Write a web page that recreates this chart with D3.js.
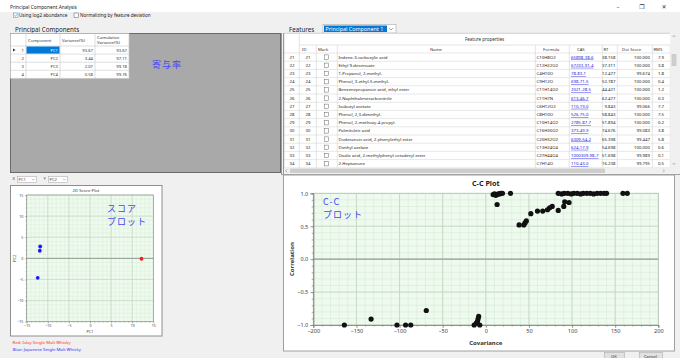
<!DOCTYPE html>
<html>
<head>
<meta charset="utf-8">
<script src="https://cdn.jsdelivr.net/npm/d3@7"></script>
<style>
html, body { margin: 0; padding: 0; background: #f0f0f0; overflow: hidden; }
body { position: relative; width: 680px; height: 358px; }
svg { display: block; font-family: "Noto Sans", "DejaVu Sans", sans-serif; }
.note { position: absolute; font-family: "Noto Sans CJK JP", "Noto Sans", sans-serif; font-size: 9px;
        letter-spacing: 1px; line-height: 13px; color: #4646f0; white-space: nowrap; margin: 0; }
</style>
</head>
<body>
<svg id="app" width="680" height="358"></svg>
<script>
// ---- principal components table ----
const pcNames = ["PC1", "PC2", "PC3", "PC4"];
const pcVariance = [93.67, 3.44, 2.07, 0.58];
const pcCumulative = [93.67, 97.11, 99.18, 99.76];

// ---- feature properties table ----
const featureIds = [21, 22, 23, 24, 25, 26, 27, 28, 29, 30, 31, 32, 33, 34];
const featureNames = [
  "Indene-3-carboxylic acid", "Ethyl 9-decenoate", "1-Propanol, 2-methyl-",
  "Phenol, 3-ethyl-5-methyl-", "Benzenepropanoic acid, ethyl ester",
  "2-Naphthalenecarbonitrile", "Isobutyl acetate", "Phenol, 2,3-dimethyl-",
  "Phenol, 2-methoxy-4-propyl-", "Palmitoleic acid",
  "Dodecanoic acid, 2-phenylethyl ester", "Diethyl azelate",
  "Oxalic acid, 2-methylphenyl octadecyl ester", "2-Heptanone"
];
const featureFormulas = ["C10H8O2", "C12H22O2", "C4H10O", "C9H12O", "C11H14O2", "C11H7N",
  "C6H12O2", "C8H10O", "C10H14O2", "C16H30O2", "C20H32O2", "C13H24O4", "C27H44O4", "C7H14O"];
const featureCas = ["65898-38-6", "67233-91-4", "78-83-1", "698-71-5", "2021-28-5", "613-46-7",
  "110-19-0", "526-75-0", "2785-87-7", "373-49-9", "6309-54-2", "624-17-9", "1000309-98-7", "110-43-0"];
const featureRt = ["38.158", "37.311", "12.477", "52.787", "44.421", "62.477", "9.843",
  "58.843", "51.894", "74.676", "65.398", "54.698", "51.698", "16.238"];
const featureDotScore = ["100.000", "100.000", "99.674", "100.000", "100.000", "100.000", "99.066",
  "100.000", "100.000", "99.083", "99.447", "100.000", "99.989", "99.795"];
const featureRms = ["7.9", "3.8", "1.8", "0.4", "1.2", "0.3", "7.7", "7.5", "0.2", "3.8", "5.8", "0.6", "0.1", "0.5"];

// ---- 2D score plot (PC1 vs PC2) ----
const scorePc1 = [-11.8, -11.9, -12.4, 12.2];
const scorePc2 = [2.8, 1.8, -4.6, -0.1];
const scoreGroup = ["Japanese", "Japanese", "Japanese", "Islay"];
const scoreTicks = [-15, -10, -5, 0, 5, 10, 15];
const legendLines = ["Red: Islay Single Malt Whisky", "Blue: Japanese Single Malt Whisky"];

// ---- C-C plot (covariance vs correlation) ----
const ccCovariance = [
  -164, -133, -103, -93, -87, -69, -13.5, -11, -9.7, -9, -8.3, -7,
  8.5, 10, 11.6, 13, 14.3, 16, 17.4, 19.3, 13.1, 28.6,
  38.6, 44, 45.5, 47, 52.2, 59.9, 66, 71.5, 74, 77, 84, 90.4, 91.5, 96.5,
  84, 88, 91, 95, 99, 102, 106, 110, 113, 117, 121, 125, 129, 133, 137, 140,
  159, 164
];
const ccCorrelation = [
  -1.0, -0.91, -1.0, -1.0, -1.0, -0.78, -1.0, -0.97, -0.95, -0.91, -0.87, -1.0,
  0.98, 0.99, 0.97, 0.98, 0.99, 0.99, 1.0, 1.0, 0.83, 1.0,
  0.52, 0.52, 0.55, 0.58, 0.69, 0.73, 0.73, 0.75, 0.78, 0.80, 0.74, 0.80, 0.87, 0.86,
  1.0, 0.99, 1.0, 1.0, 0.99, 1.0, 1.0, 0.99, 1.0, 1.0, 1.0, 0.99, 1.0, 1.0, 1.0, 1.0,
  1.0, 1.0
];
const ccXTicks = [-200, -150, -100, -50, 0, 50, 100, 150, 200];
const ccYTicks = [-1.0, -0.5, 0.0, 0.5, 1.0];

const svg = d3.select("#app");

// annotation notes laid over the panels (two-line notes keep one block each)
function note(x, y, lines) {
  d3.select("body").append("p").attr("class", "note")
    .style("left", x + "px").style("top", y + "px")
    .html(lines.join("<br>"));
}

// ===== window frame =====
svg.append("rect").attr("width", 680).attr("height", 358).attr("fill", "#f0f0f0");
svg.append("rect").attr("width", 680).attr("height", 12).attr("fill", "#ffffff");
svg.append("text").attr("x", 10).attr("y", 8.5).attr("font-size", 4.8).attr("fill", "#222")
  .text("Principal Component Analysis");
[["\u2013", 618], ["\u2750", 642], ["\u2715", 664]].forEach(([g, x]) => {
  svg.append("text").attr("x", x).attr("y", 9).attr("font-size", 6).attr("fill", "#333")
    .attr("text-anchor", "middle").attr("font-family", "DejaVu Sans").text(g);
});

// option checkboxes
function checkbox(g, x, y, checked) {
  g.append("rect").attr("x", x).attr("y", y).attr("width", 4.5).attr("height", 4.5)
    .attr("fill", "#fff").attr("stroke", checked ? "#3c7fd8" : "#555").attr("stroke-width", 0.5);
  if (checked) {
    g.append("path").attr("d", `M${x + 0.9},${y + 2.3} L${x + 1.9},${y + 3.4} L${x + 3.7},${y + 1.1}`)
      .attr("fill", "none").attr("stroke", "#3c7fd8").attr("stroke-width", 0.6);
  }
}
checkbox(svg, 13.5, 13, true);
svg.append("text").attr("x", 19).attr("y", 16.8).attr("font-size", 4.6).attr("fill", "#222").text("Using log2 abundance");
checkbox(svg, 74, 13, false);
svg.append("text").attr("x", 80).attr("y", 16.8).attr("font-size", 4.6).attr("fill", "#222").text("Normalizing by feature deviation");

// ===== principal components =====
svg.append("text").attr("x", 15).attr("y", 31.5).attr("font-size", 6.2).attr("fill", "#222").text("Principal Components");
svg.append("rect").attr("x", 10.5).attr("y", 33.5).attr("width", 270).attr("height", 139)
  .attr("fill", "#a9a9a9").attr("stroke", "#6a6a6a").attr("stroke-width", 1);

const pcCols = [10.5, 26, 60, 95, 129];
const pcHeadTop = 33.5, pcHeadH = 12.5, pcRowH = 8.1;
const pcT = svg.append("g");
pcT.append("rect").attr("x", pcCols[0]).attr("y", pcHeadTop).attr("width", pcCols[4] - pcCols[0])
  .attr("height", pcHeadH + pcRowH * pcNames.length).attr("fill", "#fff");
pcT.selectAll("line.v").data(pcCols).join("line")
  .attr("x1", d => d).attr("x2", d => d).attr("y1", pcHeadTop)
  .attr("y2", pcHeadTop + pcHeadH + pcRowH * pcNames.length).attr("stroke", "#c8c8c8").attr("stroke-width", 0.6);
pcT.selectAll("line.h").data(d3.range(pcNames.length + 1)).join("line")
  .attr("x1", pcCols[0]).attr("x2", pcCols[4])
  .attr("y1", i => pcHeadTop + pcHeadH + i * pcRowH).attr("y2", i => pcHeadTop + pcHeadH + i * pcRowH)
  .attr("stroke", "#c8c8c8").attr("stroke-width", 0.6);
const hdr = [["Component", pcCols[1] + 2, 41.5], ["Variance(%)", pcCols[2] + 2, 41.5]];
hdr.forEach(([t, x, y]) => pcT.append("text").attr("x", x).attr("y", y).attr("font-size", 4.2).attr("fill", "#333").text(t));
pcT.append("text").attr("x", pcCols[3] + 2).attr("y", 38.5).attr("font-size", 4.2).attr("fill", "#333").text("Cumulative");
pcT.append("text").attr("x", pcCols[3] + 2).attr("y", 43.5).attr("font-size", 4.2).attr("fill", "#333").text("Variance(%)");
pcNames.forEach((name, i) => {
  const y0 = pcHeadTop + pcHeadH + i * pcRowH;
  const yt = y0 + pcRowH / 2 + 1.5;
  if (i === 0) {
    pcT.append("rect").attr("x", pcCols[1] + 0.5).attr("y", y0 + 0.5).attr("width", pcCols[2] - pcCols[1] - 1)
      .attr("height", pcRowH - 1).attr("fill", "#0078d7");
    pcT.append("path").attr("d", `M13,${y0 + 2.6} L15.5,${y0 + 4} L13,${y0 + 5.4} Z`).attr("fill", "#333");
  }
  pcT.append("text").attr("x", 24).attr("y", yt).attr("text-anchor", "end").attr("font-size", 4.2).attr("fill", "#333").text(i + 1);
  pcT.append("text").attr("x", pcCols[2] - 2).attr("y", yt).attr("text-anchor", "end").attr("font-size", 4.2)
    .attr("fill", i === 0 ? "#fff" : "#333").text(name);
  pcT.append("text").attr("x", pcCols[3] - 2).attr("y", yt).attr("text-anchor", "end").attr("font-size", 4.2)
    .attr("fill", "#333").text(pcVariance[i].toFixed(2));
  pcT.append("text").attr("x", pcCols[4] - 2).attr("y", yt).attr("text-anchor", "end").attr("font-size", 4.2)
    .attr("fill", "#333").text(pcCumulative[i].toFixed(2));
});
note(152, 57.5, ["寄与率"]);

// ===== features =====
svg.append("text").attr("x", 289).attr("y", 32).attr("font-size", 6.2).attr("fill", "#222").text("Features");
svg.append("rect").attr("x", 323).attr("y", 24.5).attr("width", 73).attr("height", 8.5)
  .attr("fill", "#fff").attr("stroke", "#9a9a9a").attr("stroke-width", 0.5);
svg.append("rect").attr("x", 324).attr("y", 25.5).attr("width", 63).attr("height", 6.5).attr("fill", "#0078d7");
svg.append("text").attr("x", 325.5).attr("y", 30.8).attr("font-size", 5.4).attr("fill", "#fff").text("Principal Component 1");
svg.append("path").attr("d", "M389,28 L391,30 L393,28").attr("fill", "none").attr("stroke", "#555").attr("stroke-width", 0.5);

const fCols = [284, 299, 316, 337, 535, 569, 602, 617, 652, 670];
const fTop = 33, fBandH = 12, fHeadH = 8, fRowH = 8.2;
const fBody = fTop + fBandH + fHeadH;
const fT = svg.append("g");
svg.append("line").attr("x1", 281.5).attr("x2", 281.5).attr("y1", 33).attr("y2", 175).attr("stroke", "#9a9a9a");
svg.append("line").attr("x1", 283.5).attr("x2", 283.5).attr("y1", 33).attr("y2", 175).attr("stroke", "#9a9a9a");
fT.append("rect").attr("x", 284).attr("y", fTop).attr("width", 394).attr("height", 141).attr("fill", "#fff");
fT.append("line").attr("x1", 284).attr("x2", 670).attr("y1", fTop + 0.3).attr("y2", fTop + 0.3).attr("stroke", "#b0b0b0").attr("stroke-width", 0.6);
fT.append("line").attr("x1", fCols[1]).attr("x2", 670).attr("y1", fTop + fBandH).attr("y2", fTop + fBandH).attr("stroke", "#d0d0d0").attr("stroke-width", 0.6);
fT.append("text").attr("x", (fCols[1] + 670) / 2).attr("y", fTop + 8).attr("text-anchor", "middle")
  .attr("font-size", 4.5).attr("fill", "#333").text("Feature properties");
const nRows = featureIds.length;
fT.selectAll("line.fv").data(fCols).join("line")
  .attr("x1", d => d + 0.3).attr("x2", d => d + 0.3)
  .attr("y1", (d, i) => (i <= 1 ? fTop : fTop + fBandH)).attr("y2", fBody + nRows * fRowH)
  .attr("stroke", "#d0d0d0").attr("stroke-width", 0.6);
fT.selectAll("line.fh").data(d3.range(nRows + 1)).join("line")
  .attr("x1", 284).attr("x2", 670)
  .attr("y1", i => fBody + i * fRowH).attr("y2", i => fBody + i * fRowH)
  .attr("stroke", "#d6d6d6").attr("stroke-width", 0.6);
const headCells = [["ID", 302, "start"], ["Mark", 318, "start"], ["Name", 436, "middle"], ["Formula", 543, "start"],
  ["CAS", 577, "start"], ["RT", 603.5, "start"], ["Dot Score", 622, "start"], ["RMS", 653.5, "start"]];
headCells.forEach(([t, x, a]) => fT.append("text").attr("x", x).attr("y", fTop + fBandH + 5.6)
  .attr("text-anchor", a).attr("font-size", 4.2).attr("fill", "#333").text(t));

featureIds.forEach((id, i) => {
  const y0 = fBody + i * fRowH, yt = y0 + fRowH / 2 + 1.5;
  const row = fT.append("g").attr("font-size", 4.3).attr("fill", "#222");
  row.append("text").attr("x", 292).attr("y", yt).attr("text-anchor", "middle").text(id);
  row.append("text").attr("x", 308).attr("y", yt).attr("text-anchor", "middle").text(id);
  row.append("rect").attr("x", 324.2).attr("y", y0 + 1.9).attr("width", 4.4).attr("height", 4.4)
    .attr("fill", "#fff").attr("stroke", "#555").attr("stroke-width", 0.45);
  row.append("text").attr("x", 338.5).attr("y", yt).text(featureNames[i]);
  row.append("text").attr("x", 536.5).attr("y", yt).text(featureFormulas[i]);
  row.append("text").attr("x", 571).attr("y", yt).attr("fill", "#2020e0")
    .attr("text-decoration", "underline").text(featureCas[i]);
  row.append("text").attr("x", 615.5).attr("y", yt).attr("text-anchor", "end").text(featureRt[i]);
  row.append("text").attr("x", 650).attr("y", yt).attr("text-anchor", "end").text(featureDotScore[i]);
  row.append("text").attr("x", 658).attr("y", yt).text(featureRms[i]);
});
// scrollbars
fT.append("rect").attr("x", 670.3).attr("y", fTop).attr("width", 7.7).attr("height", 135).attr("fill", "#f0f0f0");
fT.append("rect").attr("x", 671.5).attr("y", 54).attr("width", 5).attr("height", 12).attr("fill", "#cdcdcd");
fT.append("path").attr("d", `M672.5,37 L674,35.5 L675.5,37`).attr("fill", "none").attr("stroke", "#777").attr("stroke-width", 0.5);
fT.append("path").attr("d", `M672.5,163 L674,164.5 L675.5,163`).attr("fill", "none").attr("stroke", "#777").attr("stroke-width", 0.5);
fT.append("rect").attr("x", 284).attr("y", 167.8).attr("width", 394).attr("height", 6).attr("fill", "#f0f0f0");
fT.append("rect").attr("x", 290).attr("y", 168.6).attr("width", 315).attr("height", 4.4).attr("fill", "#cdcdcd");
fT.append("path").attr("d", `M287,169.3 L285.6,170.8 L287,172.3`).attr("fill", "none").attr("stroke", "#777").attr("stroke-width", 0.5);
fT.append("path").attr("d", `M663,169.3 L664.4,170.8 L663,172.3`).attr("fill", "none").attr("stroke", "#777").attr("stroke-width", 0.5);
svg.append("line").attr("x1", 281).attr("x2", 680).attr("y1", 174.5).attr("y2", 174.5).attr("stroke", "#a0a0a0");

// ===== score plot selectors =====
function combo(x, label, value) {
  svg.append("text").attr("x", x).attr("y", 180.3).attr("font-size", 4.2).attr("fill", "#444").text(label);
  svg.append("rect").attr("x", x + 5).attr("y", 176.5).attr("width", 19).attr("height", 6)
    .attr("fill", "#fff").attr("stroke", "#a0a0a0").attr("stroke-width", 0.5);
  svg.append("text").attr("x", x + 6).attr("y", 180.8).attr("font-size", 4).attr("fill", "#333").text(value);
  svg.append("path").attr("d", `M${x + 19.5},178.8 L${x + 20.8},180.1 L${x + 22.1},178.8`)
    .attr("fill", "none").attr("stroke", "#666").attr("stroke-width", 0.45);
}
combo(12.5, "X", "PC1");
combo(43.5, "Y", "PC2");

// ===== 2D score plot =====
svg.append("rect").attr("x", 10.5).attr("y", 185.5).attr("width", 151.5).attr("height", 150.5)
  .attr("fill", "#fff").attr("stroke", "#8e8e8e").attr("stroke-width", 1);
svg.append("text").attr("x", 86).attr("y", 191.8).attr("text-anchor", "middle").attr("font-size", 4.3)
  .attr("fill", "#333").text("2D Score Plot");
const sx = d3.scaleLinear().domain([-15, 15]).range([26.7, 153.3]);
const sy = d3.scaleLinear().domain([-15, 15]).range([321.7, 195]);
const sp = svg.append("g");
sp.append("rect").attr("x", sx(-15)).attr("y", sy(15)).attr("width", sx(15) - sx(-15)).attr("height", sy(-15) - sy(15))
  .attr("fill", "#eefaee");
const sMinor = d3.range(-15, 15.01, 1);
sp.selectAll("line.mx").data(sMinor).join("line").attr("x1", d => sx(d)).attr("x2", d => sx(d))
  .attr("y1", sy(15)).attr("y2", sy(-15)).attr("stroke", "#d6ead6").attr("stroke-width", 0.4);
sp.selectAll("line.my").data(sMinor).join("line").attr("y1", d => sy(d)).attr("y2", d => sy(d))
  .attr("x1", sx(-15)).attr("x2", sx(15)).attr("stroke", "#d6ead6").attr("stroke-width", 0.4);
sp.selectAll("line.Mx").data(scoreTicks).join("line").attr("x1", d => sx(d)).attr("x2", d => sx(d))
  .attr("y1", sy(15)).attr("y2", sy(-15)).attr("stroke", "#bfd2bf").attr("stroke-width", 0.6);
sp.selectAll("line.My").data(scoreTicks).join("line").attr("y1", d => sy(d)).attr("y2", d => sy(d))
  .attr("x1", sx(-15)).attr("x2", sx(15)).attr("stroke", "#bfd2bf").attr("stroke-width", 0.6);
sp.append("line").attr("x1", sx(-15)).attr("x2", sx(15)).attr("y1", sy(0)).attr("y2", sy(0))
  .attr("stroke", "#8c968c").attr("stroke-width", 0.9);
sp.append("rect").attr("x", sx(-15)).attr("y", sy(15)).attr("width", sx(15) - sx(-15)).attr("height", sy(-15) - sy(15))
  .attr("fill", "none").attr("stroke", "#8a8a8a").attr("stroke-width", 0.6);

const sAxisX = sp.append("g").attr("transform", `translate(0,${sy(-15)})`)
  .call(d3.axisBottom(sx).tickValues(scoreTicks).tickSize(1.8).tickPadding(1));
const sAxisXm = sp.append("g").attr("transform", `translate(0,${sy(-15)})`)
  .call(d3.axisBottom(sx).tickValues(sMinor).tickSize(1).tickFormat(""));
const sAxisY = sp.append("g").attr("transform", `translate(${sx(-15)},0)`)
  .call(d3.axisLeft(sy).tickValues(scoreTicks).tickSize(1.8).tickPadding(1.5));
const sAxisYm = sp.append("g").attr("transform", `translate(${sx(-15)},0)`)
  .call(d3.axisLeft(sy).tickValues(sMinor).tickSize(1).tickFormat(""));
[sAxisX, sAxisXm, sAxisY, sAxisYm].forEach(a => {
  a.select(".domain").remove();
  a.selectAll(".tick line").attr("stroke", "#777").attr("stroke-width", 0.4);
  a.selectAll("text").attr("font-size", 3.6).attr("fill", "#444").attr("font-family", "Noto Sans");
});
sp.append("text").attr("x", sx(0)).attr("y", 332.5).attr("text-anchor", "middle").attr("font-size", 3.8)
  .attr("fill", "#333").text("PC1");
sp.append("text").attr("transform", `translate(15.5,${sy(0)}) rotate(-90)`).attr("text-anchor", "middle")
  .attr("font-size", 3.8).attr("fill", "#333").text("PC2");
sp.selectAll("circle.s").data(scorePc1).join("circle")
  .attr("cx", d => sx(d)).attr("cy", (d, i) => sy(scorePc2[i])).attr("r", 1.9)
  .attr("fill", (d, i) => (scoreGroup[i] === "Islay" ? "#ff1a1a" : "#1a1aff"));
note(107, 201.5, ["スコア", "プロット"]);
svg.selectAll("text.leg").data(legendLines).join("text")
  .attr("x", 12.5).attr("y", (d, i) => 343.5 + i * 7).attr("font-size", 4.3)
  .attr("fill", (d, i) => (i === 0 ? "#ff3030" : "#3030ff")).text(d => d);

// ===== C-C plot =====
svg.append("rect").attr("x", 283.5).attr("y", 175).attr("width", 391).attr("height", 176)
  .attr("fill", "#fff").attr("stroke", "#a0a0a0").attr("stroke-width", 1);
const cx = d3.scaleLinear().domain([-200, 200]).range([313.3, 658.3]);
const cy = d3.scaleLinear().domain([-1, 1]).range([325, 193.3]);
const cp = svg.append("g");
cp.append("text").attr("x", cx(0)).attr("y", 185.5).attr("text-anchor", "middle").attr("font-size", 7.2)
  .attr("font-weight", "bold").attr("fill", "#222").text("C-C Plot");
cp.append("rect").attr("x", cx(-200)).attr("y", cy(1)).attr("width", cx(200) - cx(-200)).attr("height", cy(-1) - cy(1))
  .attr("fill", "#eefaee");
const cxMinor = d3.range(-200, 200.01, 10);
const cyMinor = d3.range(-10, 10.01, 1).map(v => v / 10);
cp.selectAll("line.mx").data(cxMinor).join("line").attr("x1", d => cx(d)).attr("x2", d => cx(d))
  .attr("y1", cy(1)).attr("y2", cy(-1)).attr("stroke", "#d7ead7").attr("stroke-width", 0.6);
cp.selectAll("line.my").data(cyMinor).join("line").attr("y1", d => cy(d)).attr("y2", d => cy(d))
  .attr("x1", cx(-200)).attr("x2", cx(200)).attr("stroke", "#d7ead7").attr("stroke-width", 0.6);
cp.selectAll("line.Mx").data(ccXTicks).join("line").attr("x1", d => cx(d)).attr("x2", d => cx(d))
  .attr("y1", cy(1)).attr("y2", cy(-1)).attr("stroke", "#c2d4c2").attr("stroke-width", 0.8);
cp.selectAll("line.My").data(ccYTicks).join("line").attr("y1", d => cy(d)).attr("y2", d => cy(d))
  .attr("x1", cx(-200)).attr("x2", cx(200)).attr("stroke", "#c2d4c2").attr("stroke-width", 0.8);
cp.append("line").attr("x1", cx(-200)).attr("x2", cx(200)).attr("y1", cy(0)).attr("y2", cy(0))
  .attr("stroke", "#98a298").attr("stroke-width", 1.4);
cp.append("rect").attr("x", cx(-200)).attr("y", cy(1)).attr("width", cx(200) - cx(-200)).attr("height", cy(-1) - cy(1))
  .attr("fill", "none").attr("stroke", "#b4c2b4").attr("stroke-width", 0.6);

const cAxX = cp.append("g").attr("transform", `translate(0,${cy(-1)})`)
  .call(d3.axisBottom(cx).tickValues(ccXTicks).tickSize(3).tickPadding(1.5));
const cAxXm = cp.append("g").attr("transform", `translate(0,${cy(-1)})`)
  .call(d3.axisBottom(cx).tickValues(cxMinor).tickSize(1.6).tickFormat(""));
const cAxY = cp.append("g").attr("transform", `translate(${cx(-200)},0)`)
  .call(d3.axisLeft(cy).tickValues(ccYTicks).tickSize(3).tickPadding(2).tickFormat(d3.format(".1f")));
const cAxYm = cp.append("g").attr("transform", `translate(${cx(-200)},0)`)
  .call(d3.axisLeft(cy).tickValues(cyMinor).tickSize(1.6).tickFormat(""));
[cAxX, cAxXm, cAxY, cAxYm].forEach(a => {
  a.select(".domain").attr("stroke", "#8a8a8a").attr("stroke-width", 0.7);
  a.selectAll(".tick line").attr("stroke", "#777").attr("stroke-width", 0.6);
  a.selectAll("text").attr("font-size", 5.6).attr("fill", "#444").attr("font-family", "Noto Sans");
});
cp.append("text").attr("x", cx(0)).attr("y", 345).attr("text-anchor", "middle").attr("font-size", 6)
  .attr("font-weight", "bold").attr("fill", "#333").text("Covariance");
cp.append("text").attr("transform", `translate(293.5,${cy(0)}) rotate(-90)`).attr("text-anchor", "middle")
  .attr("font-size", 6).attr("font-weight", "bold").attr("fill", "#333").text("Correlation");
cp.selectAll("circle.c").data(ccCovariance).join("circle")
  .attr("cx", d => cx(d)).attr("cy", (d, i) => cy(ccCorrelation[i])).attr("r", 2.6).attr("fill", "#111");
note(323, 195, ["C-C", "プロット"]);

// ===== dialog buttons =====
[["OK", 604, 20], ["Cancel", 639, 23]].forEach(([t, x, w]) => {
  svg.append("rect").attr("x", x + 0.5).attr("y", 352.5).attr("width", w).attr("height", 9)
    .attr("fill", "#e1e1e1").attr("stroke", "#adadad").attr("stroke-width", 0.6);
  svg.append("text").attr("x", x + w / 2).attr("y", 357.5).attr("text-anchor", "middle")
    .attr("font-size", 4.2).attr("fill", "#333").text(t);
});
</script>
</body>
</html>
